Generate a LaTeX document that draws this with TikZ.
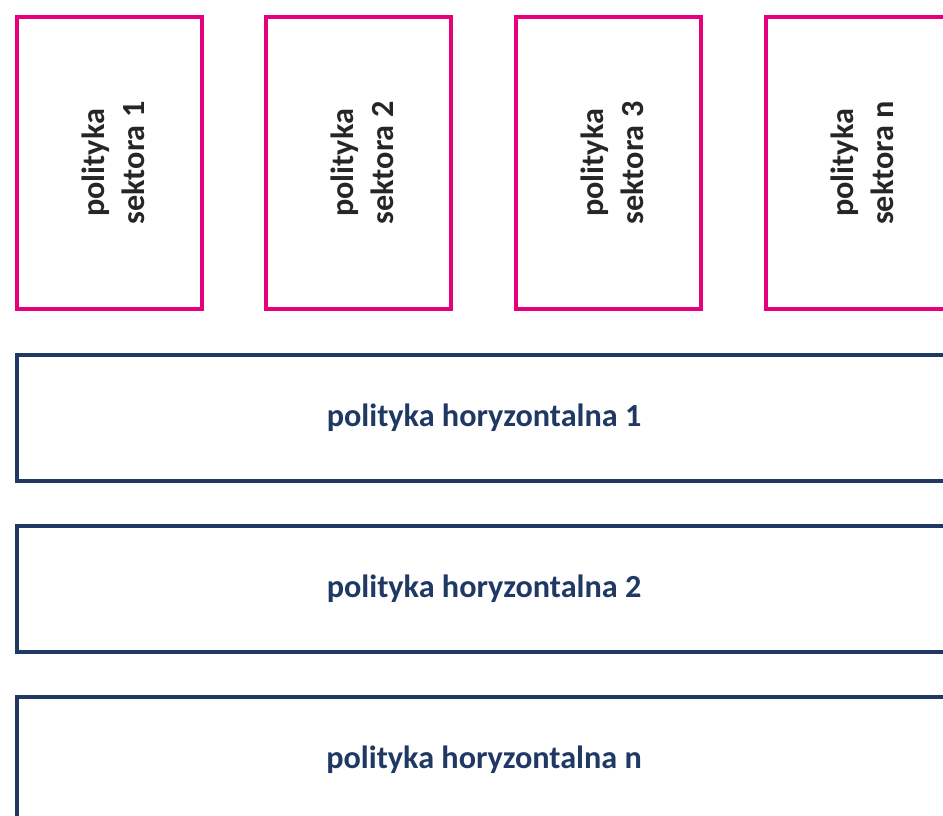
\documentclass[tikz,border=0pt]{standalone}
\usepackage{fontspec}
\setmainfont{Carlito}
\usepackage{xcolor}
\usepackage{tikz}
\usetikzlibrary{positioning}

\definecolor{magentaline}{HTML}{E6007E}
\definecolor{navyline}{HTML}{1F3864}
\definecolor{darktext}{HTML}{262626}

\tikzset{
  sektorbox/.style={draw=magentaline, line width=2.6pt, minimum width=5.55cm, minimum height=8.76cm, inner sep=0pt},
  sektortext/.style={rotate=90, align=center, text=darktext, yshift=-0.12cm, font=\fontsize{27.5}{34}\selectfont\bfseries},
  poziombox/.style={draw=navyline, line width=2.8pt, minimum width=28.02cm, minimum height=3.78cm, inner sep=0pt,
    text=navyline, font=\fontsize{27.5}{34}\selectfont\bfseries}
}

\begin{document}
\begin{tikzpicture}[x=0.03cm, y=0.03cm]
    \useasboundingbox (0,0) rectangle (943,816);
    % polityki sektorowe
    \node[sektorbox] (s1) at (109.5,653) {};
    \node[sektortext] (t1) at (s1) {polityka\\sektora 1};
    \node[sektorbox] (s2) at (358.5,653) {};
    \node[sektortext] (t2) at (s2) {polityka\\sektora 2};
    \node[sektorbox] (s3) at (608.5,653) {};
    \node[sektortext] (t3) at (s3) {polityka\\sektora 3};
    \node[sektorbox] (sn) at (858.5,653) {};
    \node[sektortext] (tn) at (sn) {polityka\\sektora n};
    % polityki horyzontalne
    \node[poziombox] (h1) at (484,398) {polityka horyzontalna 1};
    \node[poziombox] (h2) at (484,227) {polityka horyzontalna 2};
    \node[poziombox] (hn) at (484,56) {polityka horyzontalna n};
\end{tikzpicture}
\end{document}
